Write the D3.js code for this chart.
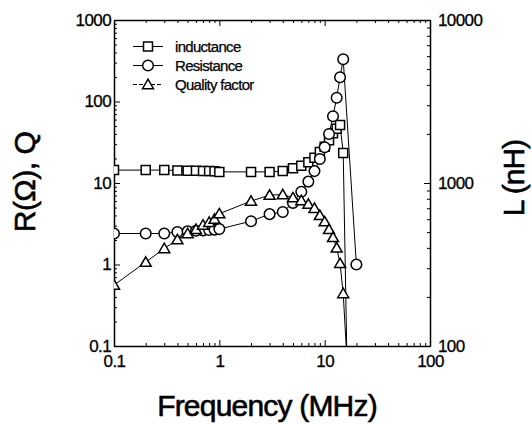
<!DOCTYPE html>
<html>
<head>
<meta charset="utf-8">
<script src="https://cdn.jsdelivr.net/npm/d3@7"></script>
<style>
body { margin: 0; background: #fff; }
text { font-family: "Liberation Sans", Arial, sans-serif; fill: #000; }
</style>
</head>
<body>
<svg id="chart" width="532" height="424"></svg>
<script>
// frequency points (MHz)
var freq = [0.1, 0.2, 0.3, 0.4, 0.5, 0.6, 0.7, 0.8, 0.9, 1,
            2, 3, 4, 5, 6, 7, 8, 9, 10, 11, 12, 13, 14, 15];

// resistance (ohm), one extra point at 20 MHz
var resFreq = freq.concat([20]);
var resistance = [2.4, 2.4, 2.4, 2.5, 2.55, 2.6, 2.62, 2.65, 2.68, 2.72,
                  3.4, 4.15, 4.4, 5.7, 7.8, 10.4, 14, 19.7, 27.4, 40, 66, 111, 198, 330,
                  1.0];

// inductance (nH), last point falls below the axis
var indFreq = freq.concat([16.5]);
var inductance = [1200, 1200, 1200, 1195, 1190, 1190, 1185, 1185, 1180, 1170,
                  1170, 1170, 1185, 1230, 1275, 1340, 1430, 1550, 1670, 1830, 2020, 2150, 2270, 1530,
                  50];

// quality factor, last point falls below the axis
var qFreq = freq.concat([16.5]);
var quality = [0.56, 1.07, 1.57, 2.02, 2.4, 2.7, 3.05, 3.3, 3.6, 4.2,
               6.0, 7.1, 7.2, 6.6, 6.1, 5.5, 4.9, 4.0, 3.35, 2.7, 2.15, 1.6, 1.03, 0.44,
               0.05];

var xTicks = [0.1, 1, 10, 100];
var leftTicks = [0.1, 1, 10, 100, 1000];
var rightTicks = [100, 1000, 10000];
var legendNames = ["inductance", "Resistance", "Quality factor"];

var svg = d3.select("#chart");
var margin = {left: 114, top: 20, right: 102, bottom: 78};
var W = 532 - margin.left - margin.right,
    H = 424 - margin.top - margin.bottom;

var x = d3.scaleLog().domain([0.1, 100]).range([0, W]);
var yL = d3.scaleLog().domain([0.1, 1000]).range([H, 0]);
var yR = d3.scaleLog().domain([100, 10000]).range([H, 0]);

var g = svg.append("g").attr("transform", "translate(" + margin.left + "," + margin.top + ")");

g.append("clipPath").attr("id", "plotclip")
    .append("rect").attr("width", W).attr("height", H);

// minor tick values for a log domain
function minors(lo, hi) {
    var out = [];
    for (var d = lo; d < hi; d *= 10) {
        for (var k = 2; k <= 9; k++) out.push(d * k);
    }
    return out;
}
var fmt = function(d) { return d < 1 ? "0.1" : String(d); };

function drawAxis(axisFn, scale, major, minor, transform, labels, pad) {
    var ax = g.append("g").attr("transform", transform);
    ax.call(axisFn(scale).tickValues(minor).tickSize(-3).tickSizeOuter(0).tickFormat(""));
    ax.select(".domain").remove();
    var mj = g.append("g").attr("transform", transform)
        .call(axisFn(scale).tickValues(major).tickSize(-6).tickSizeOuter(0)
            .tickPadding(pad).tickFormat(labels ? fmt : ""));
    mj.select(".domain").attr("stroke-width", 1.5);
    mj.selectAll("text").attr("font-size", 17)
        .attr("letter-spacing", -0.6)
        .attr("stroke", "#000").attr("stroke-width", 0.3)
        .style("font-family", "Liberation Sans, Arial, sans-serif");
    g.selectAll(".tick line").attr("stroke-width", 1);
    return mj;
}

drawAxis(d3.axisBottom, x, xTicks, minors(0.1, 100), "translate(0," + H + ")", true, 9);
drawAxis(d3.axisTop, x, xTicks, minors(0.1, 100), "translate(0,0)", false, 3);
drawAxis(d3.axisLeft, yL, leftTicks, minors(0.1, 1000), "translate(0,0)", true, 3);
drawAxis(d3.axisRight, yR, rightTicks, minors(100, 10000), "translate(" + W + ",0)", true, 8);

// series
var series = [
    {name: legendNames[0], fx: indFreq, vals: inductance, y: yR, shape: "square"},
    {name: legendNames[1], fx: resFreq, vals: resistance, y: yL, shape: "circle"},
    {name: legendNames[2], fx: qFreq, vals: quality, y: yL, shape: "triangle"}
];

var symbolFor = {
    square: d3.symbol().type(d3.symbolSquare).size(81),
    circle: d3.symbol().type(d3.symbolCircle).size(88),
    triangle: d3.symbol().type(d3.symbolTriangle).size(52)
};

var plot = g.append("g").attr("clip-path", "url(#plotclip)");

series.forEach(function(s) {
    var pts = s.fx.map(function(f, i) { return {f: f, v: s.vals[i]}; });
    var line = d3.line().x(function(d) { return x(d.f); }).y(function(d) { return s.y(d.v); });
    plot.append("path")
        .datum(pts)
        .attr("d", line)
        .attr("fill", "none")
        .attr("stroke", "#000")
        .attr("stroke-width", 1);
});

series.forEach(function(s) {
    var dom = s.y.domain();
    var pts = s.fx.map(function(f, i) { return {f: f, v: s.vals[i]}; })
        .filter(function(d) { return d.v >= dom[0] && d.v <= dom[1]; });
    plot.selectAll(null)
        .data(pts)
        .enter()
        .append("path")
        .attr("d", symbolFor[s.shape])
        .attr("transform", function(d) {
            var dy = s.shape === "triangle" ? 1 : 0;
            return "translate(" + x(d.f) + "," + (s.y(d.v) + dy) + ")";
        })
        .attr("fill", "#fff")
        .attr("stroke", "#000")
        .attr("stroke-width", 1.5);
});

// legend
var legend = svg.append("g").attr("transform", "translate(133,46.5)");
series.forEach(function(s, i) {
    var row = legend.append("g").attr("transform", "translate(0," + (i * 19) + ")");
    row.append("line")
        .attr("x1", 0).attr("x2", 30).attr("y1", 0).attr("y2", 0)
        .attr("stroke", "#000").attr("stroke-width", 1)
        .attr("stroke-dasharray", s.shape === "triangle" ? "4,2" : null);
    row.append("path")
        .attr("d", symbolFor[s.shape])
        .attr("transform", "translate(15," + (s.shape === "triangle" ? 1 : 0) + ")")
        .attr("fill", "#fff").attr("stroke", "#000").attr("stroke-width", 1.5);
    row.append("text")
        .attr("x", 42).attr("y", 5)
        .attr("font-size", 15)
        .attr("letter-spacing", -0.7)
        .attr("stroke", "#000").attr("stroke-width", 0.25)
        .text(s.name);
});

// axis titles
svg.append("text")
    .attr("x", 267).attr("y", 416)
    .attr("text-anchor", "middle")
    .attr("font-size", 30)
    .attr("letter-spacing", -0.8)
    .attr("stroke", "#000").attr("stroke-width", 0.6)
    .text("Frequency (MHz)");

svg.append("text")
    .attr("transform", "translate(35,182) rotate(-90)")
    .attr("text-anchor", "middle")
    .attr("font-size", 30)
    .attr("letter-spacing", -0.5)
    .attr("stroke", "#000").attr("stroke-width", 0.6)
    .text("R(\u03A9), Q");

svg.append("text")
    .attr("transform", "translate(524,178) rotate(-90)")
    .attr("text-anchor", "middle")
    .attr("font-size", 30)
    .attr("letter-spacing", -1)
    .attr("stroke", "#000").attr("stroke-width", 0.6)
    .text("L (nH)");
</script>
</body>
</html>
